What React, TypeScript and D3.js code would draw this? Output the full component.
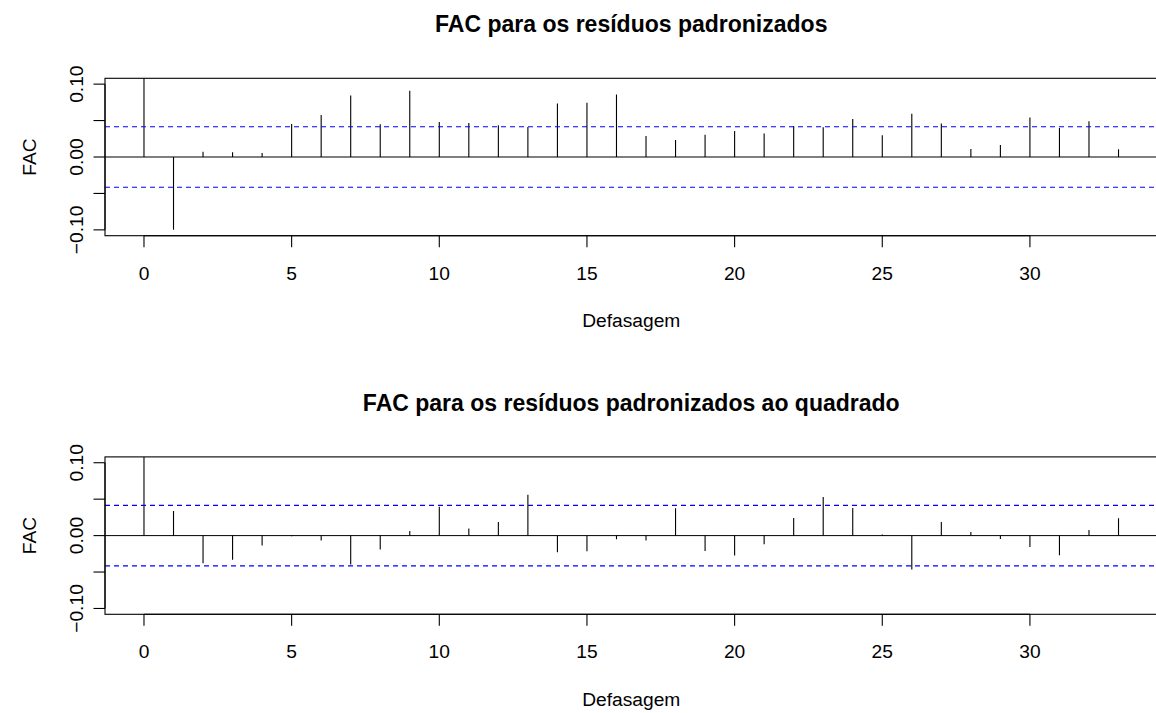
import React, { useEffect, useRef } from 'react';
import * as d3 from 'd3';

// lags shown on the x axis
const lags = [0, 1, 2, 3, 4, 5, 6, 7, 8, 9, 10, 11, 12, 13, 14, 15, 16,
  17, 18, 19, 20, 21, 22, 23, 24, 25, 26, 27, 28, 29, 30, 31, 32, 33];

// ACF of the standardized residuals
const acfResid = [1, -0.100, 0.0073, 0.0064, 0.0055, 0.0454, 0.0578, 0.0844,
  0.045, 0.0908, 0.048, 0.0468, 0.0436, 0.0413, 0.0734, 0.0743, 0.0858, 0.0289,
  0.0234, 0.0307, 0.0358, 0.0321, 0.0427, 0.0408, 0.0523, 0.0298, 0.0592, 0.0459,
  0.011, 0.0165, 0.0541, 0.0399, 0.0491, 0.0106];

// ACF of the squared standardized residuals
const acfResidSq = [1, 0.0338, -0.0379, -0.0333, -0.0137, -0.001, -0.0068, -0.0397,
  -0.0192, 0.0064, 0.0397, 0.0096, 0.0187, 0.0562, -0.0228, -0.0215, -0.005, -0.0068,
  0.0374, -0.021, -0.0274, -0.0119, 0.0242, 0.053, 0.0379, 0.0014, -0.0466, 0.0187,
  0.005, -0.0046, -0.0155, -0.0269, 0.0078, 0.0237];

const confBound = 0.0415;
const xTicks = [0, 5, 10, 15, 20, 25, 30];
const yTicks = [-0.10, -0.05, 0, 0.05, 0.10];
const yLabels = [-0.10, 0, 0.10];
const titles = ['FAC para os resíduos padronizados', 'FAC para os resíduos padronizados ao quadrado'];

const W = 1156;
const H = 713;
const font = '"Liberation Sans", Arial, Helvetica, sans-serif';

function drawPanel(svg, values, title, offsetY, idx) {
  const left = 105, right = 1157.5;
  const top = 78.3 + offsetY, bottom = 235.7 + offsetY;

  const x = d3.scaleLinear().domain([-1.32, 34.32]).range([left, right]);
  const y = d3.scaleLinear().domain([-0.108, 0.108]).range([bottom, top]);

  const g = svg.append('g');

  g.append('clipPath').attr('id', 'clip' + idx)
    .append('rect')
    .attr('x', left).attr('y', top)
    .attr('width', right - left).attr('height', bottom - top);

  const plot = g.append('g').attr('clip-path', `url(#clip${idx})`);

  // zero line
  plot.append('line')
    .attr('x1', left).attr('x2', right)
    .attr('y1', y(0)).attr('y2', y(0))
    .attr('stroke', '#000').attr('stroke-width', 1);

  // spikes
  plot.selectAll('line.spike')
    .data(lags)
    .enter()
    .append('line')
    .attr('class', 'spike')
    .attr('x1', (d) => x(d)).attr('x2', (d) => x(d))
    .attr('y1', y(0))
    .attr('y2', (d, i) => y(values[i]))
    .attr('stroke', '#000').attr('stroke-width', 1.1);

  // confidence bounds
  [confBound, -confBound].forEach((c) => {
    plot.append('line')
      .attr('x1', left).attr('x2', right)
      .attr('y1', y(c)).attr('y2', y(c))
      .attr('stroke', '#0000ff').attr('stroke-width', 1.1)
      .attr('stroke-dasharray', '5,4');
  });

  // box
  g.append('rect')
    .attr('x', left).attr('y', top)
    .attr('width', right - left).attr('height', bottom - top)
    .attr('fill', 'none').attr('stroke', '#000').attr('stroke-width', 1.1);

  // x axis
  g.append('line')
    .attr('x1', x(xTicks[0])).attr('x2', x(xTicks[xTicks.length - 1]))
    .attr('y1', bottom).attr('y2', bottom)
    .attr('stroke', '#000').attr('stroke-width', 1.1);
  g.selectAll('line.xt').data(xTicks).enter().append('line')
    .attr('class', 'xt')
    .attr('x1', (d) => x(d)).attr('x2', (d) => x(d))
    .attr('y1', bottom).attr('y2', bottom + 11.5)
    .attr('stroke', '#000').attr('stroke-width', 1.1);
  g.selectAll('text.xl').data(xTicks).enter().append('text')
    .attr('class', 'xl')
    .attr('x', (d) => x(d)).attr('y', bottom + 44)
    .attr('text-anchor', 'middle')
    .style('font-family', font).style('font-size', '19.2px')
    .text((d) => String(d));

  // y axis
  g.append('line')
    .attr('x1', left).attr('x2', left)
    .attr('y1', y(yTicks[0])).attr('y2', y(yTicks[yTicks.length - 1]))
    .attr('stroke', '#000').attr('stroke-width', 1.1);
  g.selectAll('line.yt').data(yTicks).enter().append('line')
    .attr('class', 'yt')
    .attr('x1', left - 11.5).attr('x2', left)
    .attr('y1', (d) => y(d)).attr('y2', (d) => y(d))
    .attr('stroke', '#000').attr('stroke-width', 1.1);
  g.selectAll('text.yl').data(yLabels).enter().append('text')
    .attr('class', 'yl')
    .attr('transform', (d) => `translate(${left - 22},${y(d)}) rotate(-90)`)
    .attr('text-anchor', 'middle')
    .style('font-family', font).style('font-size', '19.2px')
    .text((d) => d3.format('.2f')(d).replace('-', '\u2212'));

  // axis titles
  g.append('text')
    .attr('transform', `translate(36,${y(0)}) rotate(-90)`)
    .attr('text-anchor', 'middle')
    .style('font-family', font).style('font-size', '19.2px')
    .text('FAC');
  g.append('text')
    .attr('x', (left + right) / 2).attr('y', bottom + 91.5)
    .attr('text-anchor', 'middle')
    .style('font-family', font).style('font-size', '19.2px')
    .text('Defasagem');

  // main title
  g.append('text')
    .attr('x', (left + right) / 2).attr('y', 32.3 + offsetY)
    .attr('text-anchor', 'middle')
    .style('font-family', font).style('font-size', '23px').style('font-weight', 'bold')
    .text(title);
}

export default function App() {
  const ref = useRef(null);

  useEffect(() => {
    const svg = d3.select(ref.current);
    svg.selectAll('*').remove();
    drawPanel(svg, acfResid, titles[0], 0, 0);
    drawPanel(svg, acfResidSq, titles[1], 378.6, 1);
  }, []);

  return (
    <svg ref={ref} width={W} height={H}
      style={{ position: 'absolute', left: 0, top: 0, background: '#fff' }} />
  );
}
